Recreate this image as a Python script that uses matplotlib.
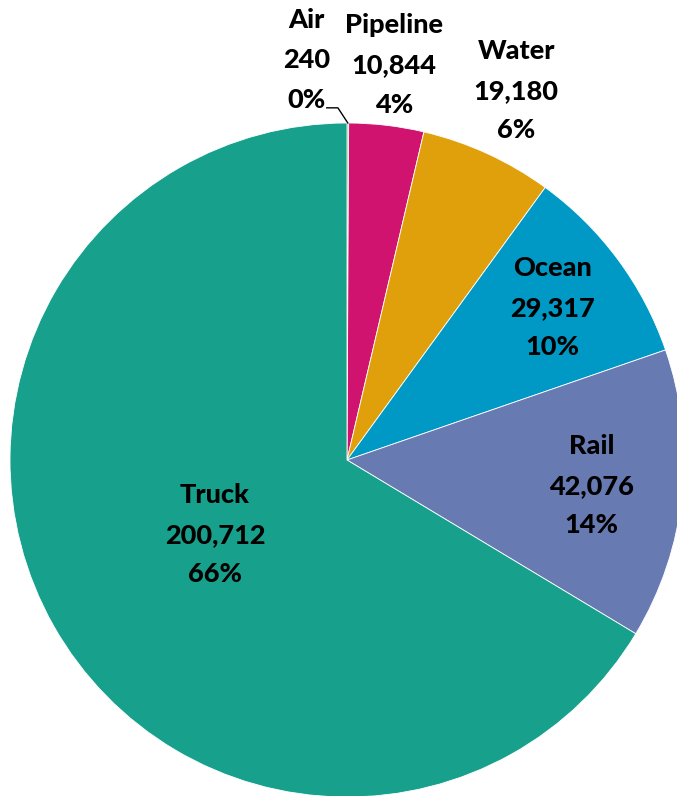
import matplotlib
matplotlib.use("Agg")
import matplotlib.pyplot as plt
import numpy as np

# freight tonnage by mode
modes = ["Air", "Pipeline", "Water", "Ocean", "Rail", "Truck"]
tons = [240, 10844, 19180, 29317, 42076, 200712]
colors = ["#5DB53B", "#D0136E", "#E0A00C", "#0098C4", "#687AB2", "#17A08C"]

# distance of each label from the centre, in pie radii
label_r = [1.18, 1.18, 1.205, 0.76, 0.73, 0.45]

W, H = 677, 796
fig = plt.figure(figsize=(W / 100, H / 100), dpi=100)
# pie centre at (347, 460) px, radius 337 px
cx, cy, r = 347, 460, 337
ax = fig.add_axes([(cx - r) / W, (H - cy - r) / H, 2 * r / W, 2 * r / H])

wedges, _ = ax.pie(tons, colors=colors, startangle=90, counterclock=False,
                   radius=1, frame=False,
                   wedgeprops=dict(edgecolor="white", linewidth=0.6))
ax.set_xlim(-1, 1)
ax.set_ylim(-1, 1)
ax.axis("off")
for w in wedges:
    w.set_clip_on(False)

total = sum(tons)
font = dict(family=["Lato", "DejaVu Sans"], fontweight=900, fontsize=19.5,
            color="black", ha="center", va="center", linespacing=1.78)
for w, name, val, lr in zip(wedges, modes, tons, label_r):
    mid = np.deg2rad((w.theta1 + w.theta2) / 2)
    x, y = lr * np.cos(mid), lr * np.sin(mid)
    if name == "Air":
        x, y = -0.12, 1.187
    pct = f"{round(100 * val / total):d}%"
    ax.text(x, y, f"{name}\n{val:,}\n{pct}", clip_on=False, **font)

# leader line for the tiny Air slice
air = wedges[0]
tip = np.deg2rad((air.theta1 + air.theta2) / 2)
ax.plot([-0.06, -0.027, np.cos(tip)], [1.045, 1.045, np.sin(tip)],
        color="black", lw=1, clip_on=False)

fig.savefig("out.png", dpi=100)
